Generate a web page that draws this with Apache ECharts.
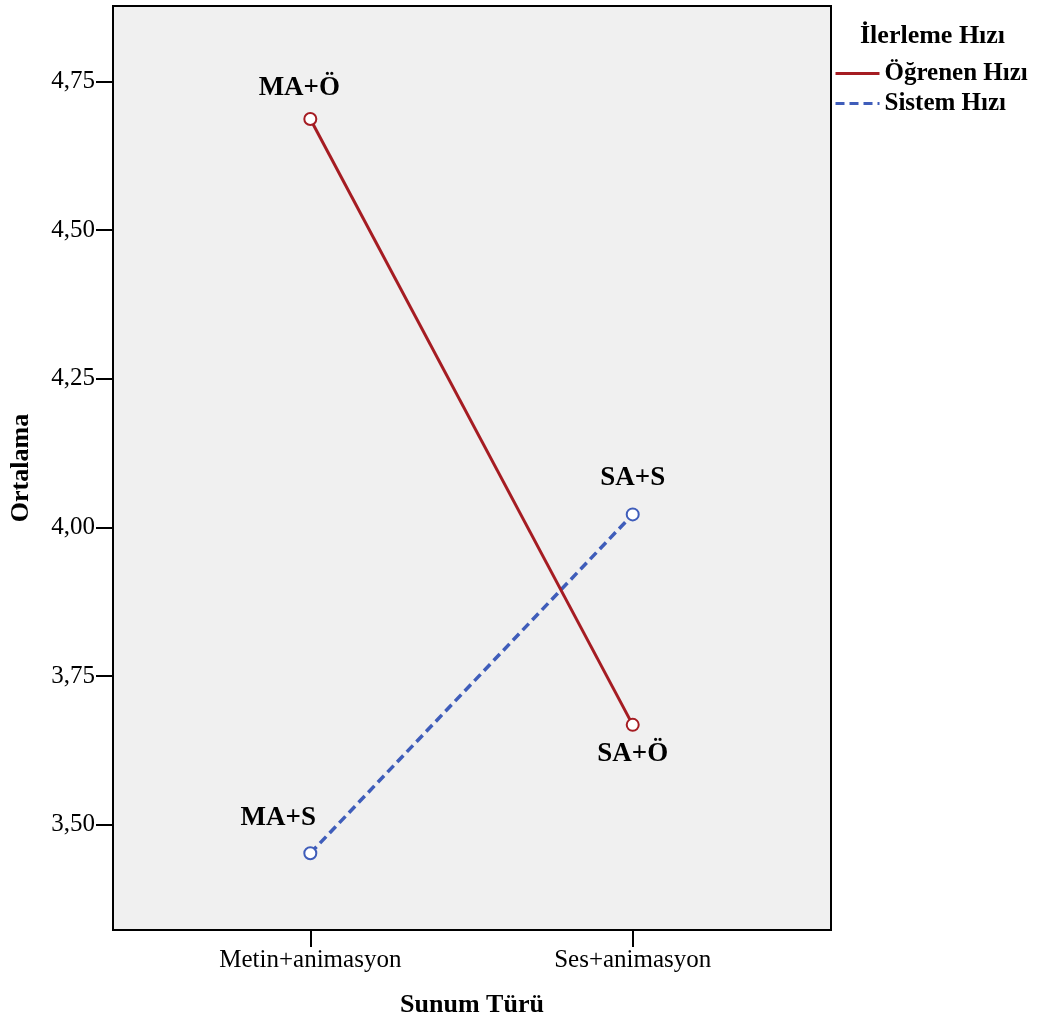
<!DOCTYPE html>
<html>
<head>
<meta charset="utf-8">
<script src="https://cdn.jsdelivr.net/npm/echarts@6/dist/echarts.min.js"></script>
<style>
html,body{margin:0;padding:0;background:#fff;}
#c{width:1049px;height:1026px;}
</style>
</head>
<body>
<div id="c"></div>
<script>
const categories = ['Metin+animasyon', 'Ses+animasyon'];
const seriesNames = ['Öğrenen Hızı', 'Sistem Hızı'];
const ogrenen = [4.687, 3.668];
const sistem = [3.452, 4.022];
const ogrenenLabels = ['MA+Ö', 'SA+Ö'];
const sistemLabels = ['MA+S', 'SA+S'];
const yTicks = [3.5, 3.75, 4.0, 4.25, 4.5, 4.75];

const FONT = '"Liberation Serif", "Times New Roman", serif';
const RED = '#a51c22';
const BLUE = '#3f5dba';

// label offsets (layout only)
const ogrOffsets = [[-11, -31], [0, 29]];
const sisOffsets = [[-32, -35], [0, -36]];

function build(values, labels, offsets) {
  return values.map((v, i) => ({
    value: [i + 1, v],
    label: {
      show: true,
      position: 'inside',
      offset: offsets[i],
      formatter: labels[i],
      fontFamily: FONT,
      fontWeight: 'bold',
      fontSize: 27,
      color: '#000'
    }
  }));
}

const chart = echarts.init(document.getElementById('c'), null, {renderer: 'canvas'});
chart.setOption({
  animation: false,
  backgroundColor: '#fff',
  title: {
    text: 'İlerleme Hızı',
    left: 860,
    top: 23,
    padding: 0,
    textStyle: {fontFamily: FONT, fontWeight: 'bold', fontSize: 26, color: '#000'}
  },
  legend: {
    orient: 'vertical',
    left: 834,
    top: 61,
    padding: 0,
    itemWidth: 44,
    itemHeight: 14,
    itemGap: 5,
    itemStyle: {opacity: 0},
    lineStyle: {width: 3},
    textStyle: {fontFamily: FONT, fontWeight: 'bold', fontSize: 25, color: '#000'},
    data: seriesNames
  },
  grid: {
    left: 111, top: 6, right: 218, bottom: 96,
    show: true,
    backgroundColor: '#f0f0f0',
    borderColor: '#000',
    borderWidth: 2
  },
  xAxis: {
    type: 'value',
    min: 0.388,
    max: 2.615,
    name: 'Sunum Türü',
    nameLocation: 'middle',
    nameGap: 62,
    nameTextStyle: {fontFamily: FONT, fontWeight: 'bold', fontSize: 26, color: '#000'},
    axisLine: {show: false},
    splitLine: {show: false},
    axisTick: {show: true, length: 17, customValues: [1, 2], lineStyle: {color: '#000', width: 2}},
    axisLabel: {
      customValues: [1, 2],
      margin: 18,
      fontFamily: FONT, fontSize: 25, color: '#000',
      formatter: v => categories[Math.round(v) - 1] || ''
    }
  },
  yAxis: {
    type: 'value',
    min: 3.323,
    max: 4.877,
    name: 'Ortalama',
    nameLocation: 'middle',
    nameGap: 79,
    nameTextStyle: {fontFamily: FONT, fontWeight: 'bold', fontSize: 26, color: '#000'},
    axisLine: {show: false},
    splitLine: {show: false},
    axisTick: {show: true, length: 17, customValues: yTicks, lineStyle: {color: '#000', width: 2}},
    axisLabel: {
      customValues: yTicks,
      margin: 18,
      fontFamily: FONT, fontSize: 25, color: '#000',
      formatter: v => v.toFixed(2).replace('.', ',')
    }
  },
  series: [
    {
      name: seriesNames[0],
      type: 'line',
      data: build(ogrenen, ogrenenLabels, ogrOffsets),
      symbol: 'emptyCircle',
      symbolSize: 12,
      lineStyle: {color: RED, width: 3},
      itemStyle: {color: RED, borderColor: RED, borderWidth: 2},
      z: 3
    },
    {
      name: seriesNames[1],
      type: 'line',
      data: build(sistem, sistemLabels, sisOffsets),
      symbol: 'emptyCircle',
      symbolSize: 12,
      lineStyle: {color: BLUE, width: 3.5, type: [9, 5]},
      itemStyle: {color: BLUE, borderColor: BLUE, borderWidth: 2},
      z: 2
    }
  ]
});
</script>
</body>
</html>
